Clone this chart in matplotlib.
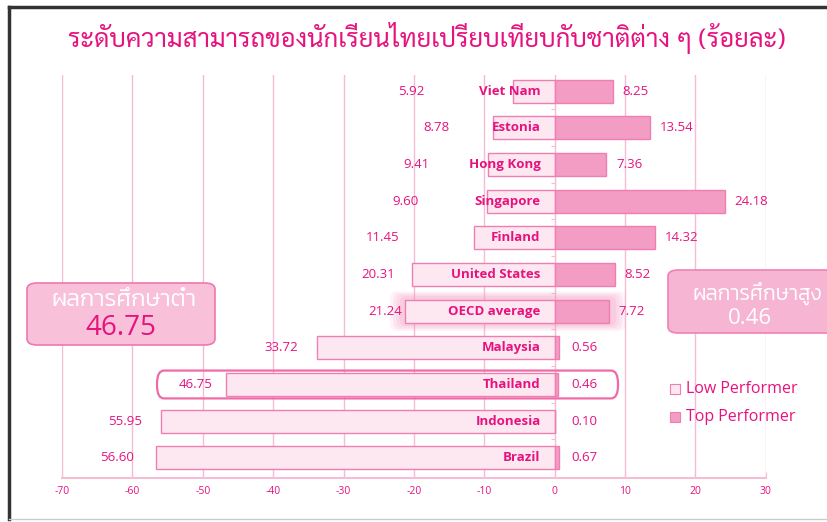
import matplotlib
matplotlib.use("Agg")
import matplotlib.pyplot as plt
from matplotlib import font_manager as fm
from matplotlib.patches import FancyBboxPatch, Rectangle
from matplotlib.lines import Line2D

# ---------------- data ----------------
countries = ["Viet Nam", "Estonia", "Hong Kong", "Singapore", "Finland",
             "United States", "OECD average", "Malaysia", "Thailand",
             "Indonesia", "Brazil"]
low_performer = [5.92, 8.78, 9.41, 9.60, 11.45, 20.31, 21.24, 33.72, 46.75, 55.95, 56.60]
top_performer = [8.25, 13.54, 7.36, 24.18, 14.32, 8.52, 7.72, 0.56, 0.46, 0.10, 0.67]
x_ticks = [-70, -60, -50, -40, -30, -20, -10, 0, 10, 20, 30]
title = "ระดับความสามารถของนักเรียนไทยเปรียบเทียบกับชาติต่าง ๆ (ร้อยละ)"
low_box_title, low_box_value = "ผลการศึกษาต่ำ", "46.75"
top_box_title, top_box_value = "ผลการศึกษาสูง", "0.46"
legend_labels = ["Low Performer", "Top Performer"]
# layout: where the low-performer value labels sit (x in data units)
low_label_x = [-20.3, -16.8, -19.7, -21.2, -24.4, -25.1, -24.1, -38.8, -51.0, -61.0, -62.2]

# ---------------- fonts ----------------
thai_fonts = []
try:
    from fontTools.ttLib import TTFont
    for f in fm.fontManager.ttflist:
        try:
            tt = TTFont(f.fname, fontNumber=0, lazy=True)
            cmap = tt.getBestCmap()
            if cmap and 0x0E01 in cmap and 0x0E33 in cmap:
                if f.name not in thai_fonts:
                    thai_fonts.append(f.name)
        except Exception:
            pass
except Exception:
    pass

def pick(prefs):
    for p in prefs:
        if p in thai_fonts:
            return p
    return thai_fonts[0] if thai_fonts else "DejaVu Sans"

THAI_TITLE = pick(["Sarabun", "Niramit", "Loma", "Noto Sans Thai"])
THAI_BOX = pick(["Kanit", "Prompt", "Noto Sans Thai", "Loma"])
plt.rcParams["font.family"] = ["Open Sans", THAI_BOX, "DejaVu Sans"]

PINK = "#e6137f"
EDGE = "#ef7fb2"
LOW_FILL = "#fde8f1"
TOP_FILL = "#f39cc4"
GRID = "#f7bcd5"

fig = plt.figure(figsize=(8.27, 5.22), dpi=100)
ax = fig.add_axes([0.075, 0.0843, 0.851, 0.772])

ys = list(range(len(countries)))
bh = 0.63
ax.barh(ys, [-v for v in low_performer], height=bh, color=LOW_FILL,
        edgecolor=EDGE, linewidth=1.0, zorder=3)
ax.barh(ys, top_performer, height=bh, color=TOP_FILL,
        edgecolor=EDGE, linewidth=1.0, zorder=3)

for y, c, lv, tv, lx in zip(ys, countries, low_performer, top_performer, low_label_x):
    ax.text(-2.0, y, c, ha="right", va="center", color=PINK, fontsize=9.5,
            fontweight="bold", zorder=5)
    ax.text(lx, y, f"{lv:.2f}", ha="center", va="center", color=PINK,
            fontsize=9.5, zorder=5)
    ax.annotate(f"{tv:.2f}", xy=(max(tv, 1.0), y), xytext=(7, 0),
                textcoords="offset points", ha="left", va="center",
                color=PINK, fontsize=9.5, zorder=5)

ax.set_xlim(-70, 30)
ax.set_ylim(len(countries) - 0.45, -0.44)
ax.set_xticks(x_ticks)
ax.set_xticklabels([str(t) for t in x_ticks], color=PINK, fontsize=7.5)
ax.tick_params(axis="x", length=4, color=GRID, direction="in", pad=6)
ax.set_yticks([y + 0.5 for y in ys[:-1]])
ax.set_yticklabels([])
ax.tick_params(axis="y", length=3, color=GRID, direction="out")
ax.grid(axis="x", color=GRID, linewidth=1.0, zorder=0)
for s in ["top", "right"]:
    ax.spines[s].set_visible(False)
ax.spines["left"].set_position(("data", 0))
ax.spines["left"].set_visible(False)
ax.spines["bottom"].set_color(GRID)
ax.spines["bottom"].set_linewidth(1.5)

# Thailand highlight
ti = countries.index("Thailand")
ax.add_patch(FancyBboxPatch((-56.5, ti - 0.38), 65.5, 0.76,
                            boxstyle="round,pad=0,rounding_size=1.0",
                            fc="none", ec="#f06aa6", lw=1.6, zorder=6,
                            mutation_aspect=0.35))
# OECD glow
oi = countries.index("OECD average")
for k, a in enumerate([0.10, 0.12, 0.14, 0.16]):
    pad = 1.8 - k * 0.45
    ax.add_patch(FancyBboxPatch((-21.6 - pad, oi - 0.36 - pad * 0.1),
                                29.9 + 2 * pad, 0.72 + pad * 0.2,
                                boxstyle="round,pad=0,rounding_size=0.8",
                                fc="#f48cbc", ec="none", alpha=a, zorder=2,
                                mutation_aspect=0.3))

# side boxes (figure coords)
W, H = 827, 522
def fx(px):
    return px / W
def fy(py):
    return 1 - py / H

fig.patches.append(FancyBboxPatch((fx(27), fy(345)), fx(215) - fx(27), fy(283) - fy(345),
                                  boxstyle="round,pad=0,rounding_size=0.012",
                                  transform=fig.transFigure, fc="#f8c0d9",
                                  ec="#ee78ae", lw=1.2, zorder=10))
fig.text(fx(124), fy(300), low_box_title, ha="center", va="center",
         color="white", fontsize=17, fontweight=300,
         family=[THAI_BOX, "DejaVu Sans"], zorder=11)
fig.text(fx(121), fy(328), low_box_value, ha="center", va="center",
         color=PINK, fontsize=20, zorder=11)

fig.patches.append(FancyBboxPatch((fx(668), fy(333)), fx(840) - fx(668), fy(270) - fy(333),
                                  boxstyle="round,pad=0,rounding_size=0.012",
                                  transform=fig.transFigure, fc="#f6b6d3",
                                  ec="#ee82b4", lw=1.2, zorder=10))
fig.text(fx(757), fy(293), top_box_title, ha="center", va="center",
         color="white", fontsize=15, fontweight=300,
         family=[THAI_BOX, "DejaVu Sans"], zorder=11)
fig.text(fx(750), fy(319), top_box_value, ha="center", va="center",
         color="white", fontsize=16, zorder=11)

# legend
for (py, lab, fc) in [(389, legend_labels[0], LOW_FILL), (417, legend_labels[1], TOP_FILL)]:
    fig.patches.append(Rectangle((fx(670), fy(py + 5)), fx(10), 10 / H,
                                 transform=fig.transFigure, fc=fc, ec=EDGE,
                                 lw=0.8, zorder=10))
    fig.text(fx(686), fy(py), lab, ha="left", va="center", color=PINK,
             fontsize=11.5, zorder=11)

fig.text(fx(427), fy(38), title, ha="center", va="center", color=PINK,
         fontsize=18.5, fontweight="normal", family=[THAI_TITLE, "DejaVu Sans"])

# frame
fig.add_artist(Line2D([fx(9), fx(9)], [fy(7), fy(519)], color="#333333", lw=2.5))
fig.add_artist(Line2D([fx(9), 1.0], [fy(7), fy(7)], color="#333333", lw=2.5))
fig.add_artist(Line2D([fx(9), 1.0], [fy(519), fy(519)], color="#cccccc", lw=1.0))

fig.savefig("out.png", dpi=100)
